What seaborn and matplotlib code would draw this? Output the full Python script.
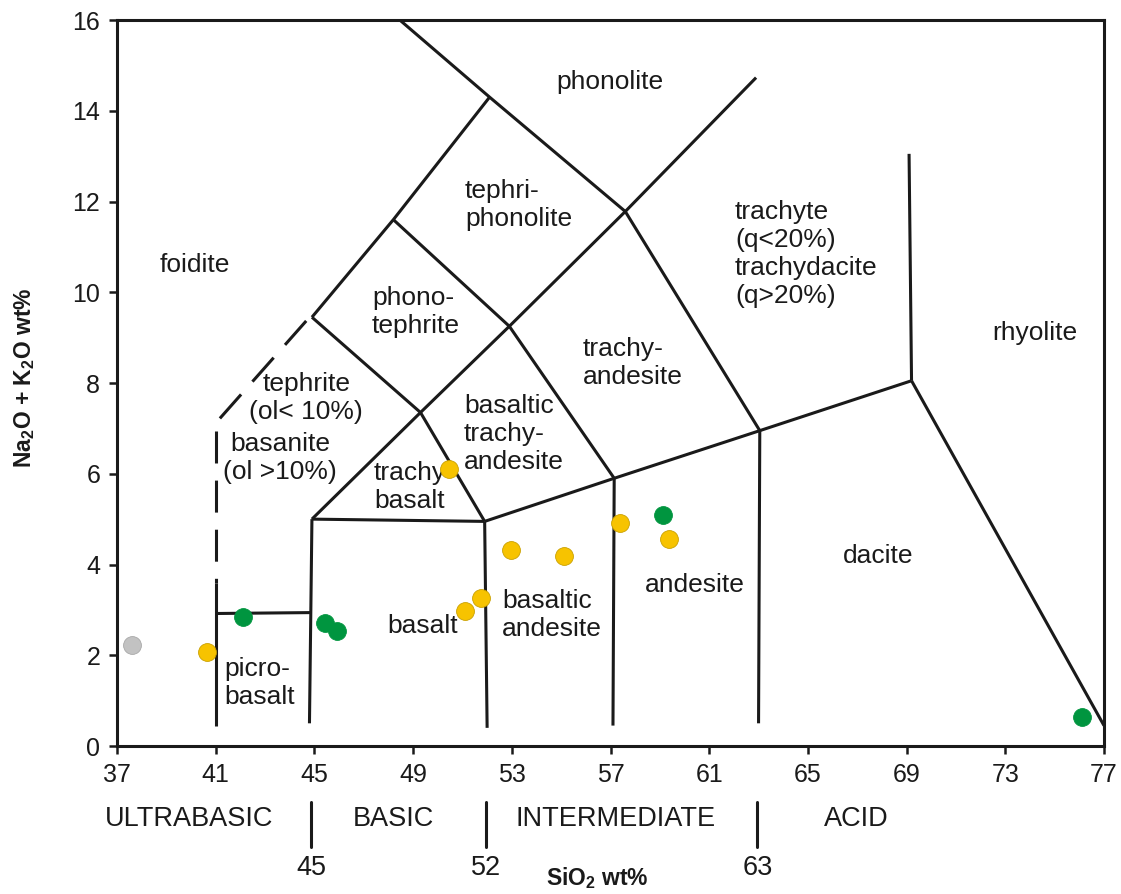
import matplotlib
matplotlib.use("Agg")
import matplotlib.pyplot as plt
import seaborn as sns
import pandas as pd

# ---------------- data ----------------
yellow_x = [40.65, 50.45, 51.12, 51.75, 52.95, 55.10, 57.38, 59.38]
yellow_y = [2.08, 6.10, 2.97, 3.26, 4.33, 4.18, 4.92, 4.56]
green_x = [42.10, 45.43, 45.90, 59.12, 76.10]
green_y = [2.85, 2.71, 2.53, 5.09, 0.64]
gray_x = [37.62]
gray_y = [2.22]

x_ticks = [37, 41, 45, 49, 53, 57, 61, 65, 69, 73, 77]
y_ticks = [0, 2, 4, 6, 8, 10, 12, 14, 16]

# TAS field boundaries (vertex lists, SiO2 / alkali)
solid_boundaries = [
    [(41.0, 0.45), (41.0, 3.6)],
    [(41.0, 2.92), (44.85, 2.94)],
    [(44.8, 0.5), (44.9, 5.0)],
    [(44.9, 5.0), (51.9, 4.95)],
    [(51.9, 4.95), (52.0, 0.4)],
    [(44.9, 5.0), (49.3, 7.35), (51.9, 4.95)],
    [(51.9, 4.95), (57.15, 5.9), (63.05, 6.95), (69.2, 8.05)],
    [(57.15, 5.9), (57.1, 0.45)],
    [(63.05, 6.95), (63.0, 0.5)],
    [(69.2, 8.05), (77.0, 0.45)],
    [(69.2, 8.05), (69.1, 13.05)],
    [(52.9, 9.25), (57.15, 5.9)],
    [(57.6, 11.78), (63.05, 6.95)],
    [(44.9, 9.45), (49.3, 7.35), (52.9, 9.25), (57.6, 11.78), (62.9, 14.73)],
    [(48.2, 11.6), (52.9, 9.25)],
    [(44.9, 9.45), (48.2, 11.6), (52.1, 14.3)],
    [(48.46, 16.0), (52.1, 14.3), (57.6, 11.78)],
]
dashed_boundaries = [
    [(41.0, 6.95), (41.0, 3.6)],
    [(41.17, 7.22), (44.72, 9.40)],
]

field_labels = [
    ("foidite", 40.16, 10.6, "center"),
    ("phonolite", 56.98, 14.63, "center"),
    ("tephri-\nphonolite", 51.10, 11.92, "left"),
    ("phono-\ntephrite", 47.33, 9.56, "left"),
    ("tephrite\n(ol< 10%)", 44.67, 7.67, "center"),
    ("basanite\n(ol >10%)", 43.61, 6.34, "center"),
    ("trachy\nbasalt", 47.42, 5.71, "left"),
    ("basaltic\ntrachy-\nandesite", 51.06, 6.88, "left"),
    ("trachy-\nandesite", 55.89, 8.44, "left"),
    ("trachyte\n(q<20%)\ntrachydacite\n(q>20%)", 62.05, 10.84, "left"),
    ("rhyolite", 74.2, 9.1, "center"),
    ("dacite", 67.84, 4.19, "center"),
    ("andesite", 60.42, 3.55, "center"),
    ("basaltic\nandesite", 52.6, 2.89, "left"),
    ("basalt", 49.4, 2.64, "center"),
    ("picro-\nbasalt", 41.34, 1.39, "left"),
]

class_names = ["ULTRABASIC", "BASIC", "INTERMEDIATE", "ACID"]
class_x = [39.92, 48.19, 57.2, 66.95]
class_limits = [45, 52, 63]
class_limit_x = [44.86, 51.95, 62.95]

# ---------------- style ----------------
sns.set_style("ticks")
plt.rcParams["font.family"] = ["Liberation Sans", "DejaVu Sans"]
plt.rcParams["mathtext.fontset"] = "custom"
plt.rcParams["mathtext.rm"] = "Liberation Sans"
plt.rcParams["mathtext.bf"] = "Liberation Sans:bold"

W, H = 1121, 894
fig = plt.figure(figsize=(W / 100, H / 100), dpi=100)
ax = fig.add_axes([117 / W, 1 - 746 / H, (1104 - 117) / W, (746 - 20) / H])

LW = 2.2
LC = "#1a1a1a"

for seg in solid_boundaries:
    xs, ys = zip(*seg)
    ax.plot(xs, ys, color=LC, lw=LW, solid_capstyle="butt", zorder=2)
for seg in dashed_boundaries:
    xs, ys = zip(*seg)
    ax.plot(xs, ys, color=LC, lw=LW, dashes=(10.47, 5.6), dash_capstyle="butt", zorder=2)

df = pd.DataFrame({
    "SiO2": yellow_x + green_x + gray_x,
    "alk": yellow_y + green_y + gray_y,
    "grp": ["yellow"] * len(yellow_x) + ["green"] * len(green_x) + ["gray"] * len(gray_x),
})
palette = {"yellow": "#F7C300", "green": "#00953F", "gray": "#C2C2C2"}
edges = {"yellow": "#C9A000", "green": "#00953F", "gray": "#A8A8A8"}
for g in ["gray", "yellow", "green"]:
    sub = df[df.grp == g]
    sns.scatterplot(data=sub, x="SiO2", y="alk", color=palette[g], edgecolor=edges[g],
                    linewidth=0.6, s=165, ax=ax, legend=False, zorder=5, clip_on=False)

for txt, x, y, ha in field_labels:
    ax.text(x, y, txt, ha=ha, va="center", fontsize=19, color="#1a1a1a",
            multialignment=ha, zorder=3)

ax.set_xlim(37, 77)
ax.set_ylim(0, 16)
ax.set_xticks(x_ticks)
ax.set_yticks(y_ticks)
ax.tick_params(axis="both", direction="out", length=6, width=1.8, labelsize=18,
               colors="#1a1a1a")
ax.tick_params(axis="x", pad=6)
ax.tick_params(axis="y", pad=6)
for sp in ax.spines.values():
    sp.set_linewidth(2.2)
    sp.set_color(LC)
    sp.set_visible(True)

# classification below the axis
for name, x in zip(class_names, class_x):
    ax.text(x, -1.61, name, ha="center", va="center", fontsize=19.5, color="#1a1a1a",
            clip_on=False)
for lim, x in zip(class_limits, class_limit_x):
    ax.plot([x, x], [-1.23, -2.22], color=LC, lw=2.2, clip_on=False)
    ax.text(x, -2.69, str(lim), ha="center", va="center", fontsize=19.5,
            color="#1a1a1a", clip_on=False)

ax.set_xlabel(r"SiO$_\mathbf{2}$ wt%", fontsize=16.5, fontweight="bold", color="#1a1a1a")
ax.xaxis.set_label_coords((597 - 117) / 987, (746 - 878) / 726)
ax.xaxis.label.set_va("center")
ax.set_ylabel(r"Na$_\mathbf{2}$O + K$_\mathbf{2}$O wt%", fontsize=16.5, fontweight="bold",
              color="#1a1a1a")
ax.yaxis.set_label_coords((25 - 117) / 987, (746 - 378) / 726)
ax.yaxis.label.set_va("center")

fig.savefig("out.png", dpi=100)
